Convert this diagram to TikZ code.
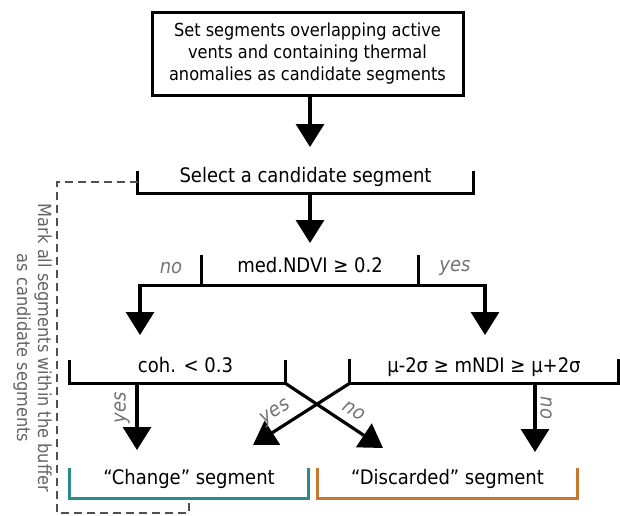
\documentclass[tikz,border=0pt]{standalone}
\usepackage{fontspec}
\setmainfont{DejaVu Sans Condensed}
\usetikzlibrary{arrows.meta}
\definecolor{changecol}{RGB}{42,140,136}
\definecolor{discardcol}{RGB}{200,120,46}
\definecolor{notecol}{RGB}{100,100,100}
\definecolor{answercol}{RGB}{115,115,115}
\tikzset{
	edgeline/.style={line width=2.7pt},
	arr/.style={line width=3.2pt,-{Triangle[width=28pt,length=23pt]}},
	bracket/.style={inner sep=0pt,font=\fontsize{20}{24}\selectfont},
	answer/.style={inner sep=0pt,font=\fontsize{20}{24}\selectfont\itshape,text=answercol},
	note/.style={inner sep=0pt,align=center,font=\fontsize{18}{21}\selectfont,text=notecol},
	feedback/.style={line width=2.4pt,draw=notecol!80!black,dash pattern=on 8pt off 5pt}
}
\begin{document}
\begin{tikzpicture}[x=1pt,y=-1pt]
	\useasboundingbox (0,0) rectangle (620,515);
	% start box
	\node[draw,line width=3pt,minimum width=311pt,minimum height=83pt,align=center,font=\fontsize{18}{21.7}\selectfont] (setc) at (307.5,53.5) {Set segments overlapping active\\vents and containing thermal\\anomalies as candidate segments};
	% conditions
	\node[bracket,minimum width=335pt,text height=11pt,text depth=11pt] (sel) at (305.5,182) {Select a candidate segment};
	\node[bracket,minimum width=216pt,text height=17pt,text depth=13pt] (ndvi) at (310,270) {med.NDVI ≥ 0.2};
	\node[bracket,minimum width=215pt,text height=12pt,text depth=11pt] (coh) at (177.5,371.5) {\hspace{16pt}coh. < 0.3};
	\node[bracket,minimum width=268pt,text height=13pt,text depth=11pt] (mndi) at (484,371) {μ-2σ ≥ mNDI ≥ μ+2σ};
	\node[bracket,minimum width=238pt,text height=16pt,text depth=14pt] (chg) at (189,483) {“Change” segment};
	\node[bracket,minimum width=259pt,text height=16pt,text depth=14pt] (dis) at (447.5,483) {“Discarded” segment};
	\foreach \n in {sel,ndvi,coh,mndi}
		\draw[edgeline] (\n.north west) |- (\n.south) -| (\n.north east);
	\draw[edgeline,changecol] (chg.north west) |- (chg.south) -| (chg.north east);
	\draw[edgeline,discardcol] (dis.north west) |- (dis.south) -| (dis.north east);
	% arrow ends
	\coordinate (a1) at (310,147);
	\coordinate (a2) at (310,243);
	\coordinate (noend) at (140,335);
	\coordinate (yesend) at (485,335);
	\coordinate (cohyes) at (137,450);
	\coordinate (mndino) at (535,452);
	\coordinate (crossyes) at (253,445);
	\coordinate (crossno) at (383,448);
	\draw[arr] (setc.south -| a1) -- (a1);
	\draw[arr] (sel.south -| a2) -- (a2);
	\draw[arr] (ndvi.south) -| (noend);
	\draw[arr] (ndvi.south) -| (yesend);
	\draw[arr] (coh.south -| cohyes) -- (cohyes);
	\draw[arr] (mndi.south -| mndino) -- (mndino);
	\draw[arr] (mndi.south west) -- (crossyes);
	\draw[arr] (coh.south east) -- (crossno);
	% yes / no
	\node[answer] (ndvino) at (171,268) {no};
	\node[answer] (ndviyes) at (455,268) {yes};
	\node[answer,rotate=90] (cohyeslab) at (122,408) {yes};
	\node[answer,rotate=-90] (mndinolab) at (546,408) {no};
	\node[answer,rotate=33] (crossyeslab) at (276,413) {yes};
	\node[answer,rotate=-33] (crossnolab) at (354,411) {no};
	% loop back
	\coordinate (fbcorner) at (57,513);
	\draw[feedback] (sel.west) -| (fbcorner) -| (chg.south);
	\node[note,rotate=-90] (marknote) at (32.5,348) {Mark all segments within the buffer\\as candidate segments};
\end{tikzpicture}
\end{document}
